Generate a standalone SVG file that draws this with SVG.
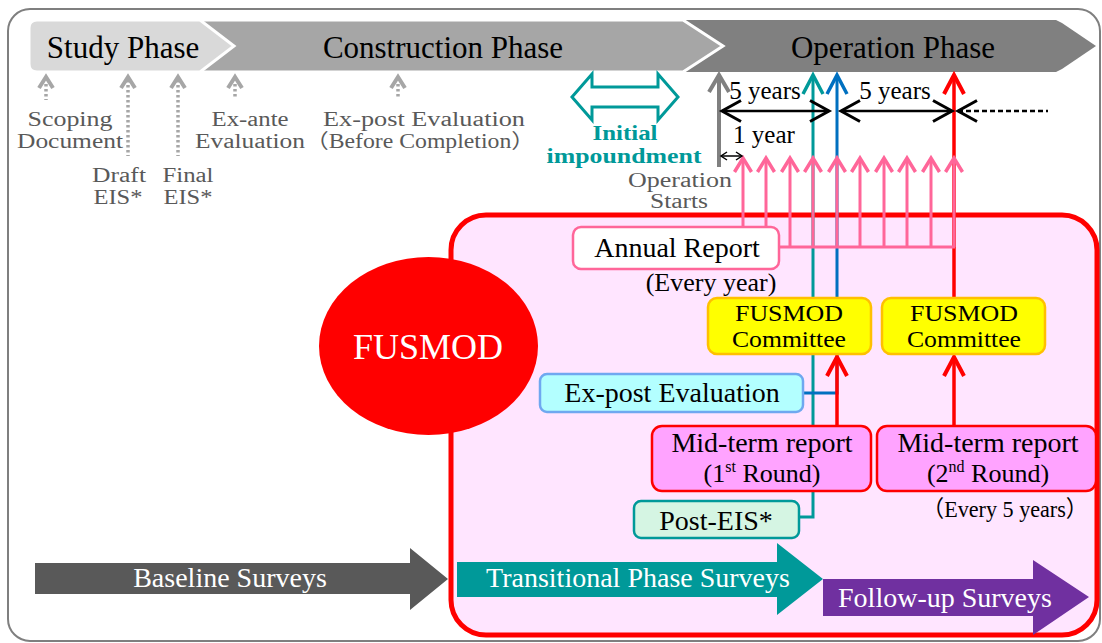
<svg xmlns="http://www.w3.org/2000/svg" width="1102" height="643" viewBox="0 0 1102 643">
<style>
text{font-family:"Liberation Serif",serif;text-anchor:middle;}
.cjk{font-family:"Liberation Serif","Noto Sans CJK JP",serif;}
.ph{font-size:31px;fill:#000;}
.gl{font-size:20px;fill:#595959;}
.bk{font-size:25px;fill:#000;}
.bx{font-size:28px;fill:#000;}
.cm{font-size:26px;fill:#000;}
.ct{font-size:23px;fill:#000;}
.wt{font-size:28px;fill:#fff;}
.tl{font-size:22px;fill:#009999;font-weight:bold;}
.dot{stroke:#a6a6a6;stroke-width:3.5;stroke-dasharray:2.5 2.5;fill:none;}
.dh{stroke:#a6a6a6;stroke-width:4;fill:none;}
.bar{stroke:#fff;stroke-width:3;}
.box{stroke-width:2.5;}
</style>
<defs>
<marker id="mTeal" markerUnits="userSpaceOnUse" viewBox="-22 -12 26 24" markerWidth="26" markerHeight="24" refX="0" refY="0" orient="auto"><path d="M-19,-10 L0,0 L-19,10" fill="none" stroke="#009999" stroke-width="3.5"/></marker>
<marker id="mBlue" markerUnits="userSpaceOnUse" viewBox="-22 -12 26 24" markerWidth="26" markerHeight="24" refX="0" refY="0" orient="auto"><path d="M-19,-10 L0,0 L-19,10" fill="none" stroke="#0070c0" stroke-width="3.5"/></marker>
<marker id="mRed" markerUnits="userSpaceOnUse" viewBox="-22 -12 26 24" markerWidth="26" markerHeight="24" refX="0" refY="0" orient="auto"><path d="M-19,-10 L0,0 L-19,10" fill="none" stroke="#ff0000" stroke-width="4"/></marker>
<marker id="mGray" markerUnits="userSpaceOnUse" viewBox="-22 -12 26 24" markerWidth="26" markerHeight="24" refX="0" refY="0" orient="auto"><path d="M-17,-10 L0,0 L-17,10" fill="none" stroke="#808080" stroke-width="4"/></marker>
<marker id="mPink" markerUnits="userSpaceOnUse" viewBox="-18 -12 22 24" markerWidth="22" markerHeight="24" refX="0" refY="0" orient="auto"><path d="M-14,-8.5 L0,0 L-14,8.5" fill="none" stroke="#ff6699" stroke-width="3.5"/></marker>
<marker id="mBlk" markerUnits="userSpaceOnUse" viewBox="-22 -13 26 26" markerWidth="26" markerHeight="26" refX="0" refY="0" orient="auto-start-reverse"><path d="M-19,-10.5 L0,0 L-19,10.5" fill="none" stroke="#000" stroke-width="3"/></marker>
<marker id="mBlkS" markerUnits="userSpaceOnUse" viewBox="-9 -6 11 12" markerWidth="11" markerHeight="12" refX="0" refY="0" orient="auto-start-reverse"><path d="M-6,-4 L0,0 L-6,4" fill="none" stroke="#000" stroke-width="1.5"/></marker>
</defs>

<rect x="8" y="9" width="1092" height="632" rx="22" fill="#fff" stroke="#7f7f7f" stroke-width="2"/>

<g id="phases">
<polygon points="680,20 1056,20 1062,23 1096,46 1062,69 1056,72 680,72" fill="#808080"/>
<polygon class="bar" points="190,20 683,20 723,46 683,72 190,72" fill="#a6a6a6"/>
<path class="bar" d="M37,20 H200 L234,46 L200,72 H37 Q29,72 29,64 V28 Q29,20 37,20 Z" fill="#d9d9d9"/>
<text class="ph" x="123" y="58">Study Phase</text>
<text class="ph" x="443" y="58">Construction Phase</text>
<text class="ph" x="893" y="58">Operation Phase</text>
</g>

<g id="eia-steps">
<path class="dot" d="M46,84 V100"/><polyline class="dh" points="39,88 46,77 53,88"/>
<path class="dot" d="M128,80 V156"/><polyline class="dh" points="121,88 128,77 135,88"/>
<path class="dot" d="M178,80 V156"/><polyline class="dh" points="171,88 178,77 185,88"/>
<path class="dot" d="M235,84 V97"/><polyline class="dh" points="228,88 235,77 242,88"/>
<path class="dot" d="M398,84 V99"/><polyline class="dh" points="391,88 398,77 405,88"/>
<text class="gl" x="70" y="126" textLength="85" lengthAdjust="spacingAndGlyphs">Scoping</text>
<text class="gl" x="70" y="148" textLength="106" lengthAdjust="spacingAndGlyphs">Document</text>
<text class="gl" x="119" y="182" textLength="54" lengthAdjust="spacingAndGlyphs">Draft</text>
<text class="gl" x="118" y="204" textLength="49" lengthAdjust="spacingAndGlyphs">EIS*</text>
<text class="gl" x="188" y="182" textLength="51" lengthAdjust="spacingAndGlyphs">Final</text>
<text class="gl" x="188" y="204" textLength="49" lengthAdjust="spacingAndGlyphs">EIS*</text>
<text class="gl" x="250" y="126" textLength="77" lengthAdjust="spacingAndGlyphs">Ex-ante</text>
<text class="gl" x="250" y="148" textLength="110" lengthAdjust="spacingAndGlyphs">Evaluation</text>
<text class="gl" x="424" y="126" textLength="202" lengthAdjust="spacingAndGlyphs">Ex-post Evaluation</text>
<text class="gl cjk" x="420" y="148" textLength="230" lengthAdjust="spacingAndGlyphs">（Before Completion）</text>
</g>

<g id="initial-impoundment">
<polygon points="572,97 592,74 592,87 658,87 658,74 678,97 658,120 658,107 592,107 592,120" fill="#fff" stroke="#009999" stroke-width="3"/>
<text class="tl" x="625" y="140" textLength="65" lengthAdjust="spacingAndGlyphs">Initial</text>
<text class="tl" x="624" y="163" textLength="155" lengthAdjust="spacingAndGlyphs">impoundment</text>
</g>

<g id="operation-starts">
<text class="gl" x="680" y="187" textLength="104" lengthAdjust="spacingAndGlyphs">Operation</text>
<text class="gl" x="679" y="208" textLength="58" lengthAdjust="spacingAndGlyphs">Starts</text>
</g>

<g id="fusmod-area">
<rect x="451" y="215" width="646" height="420" rx="35" fill="#ffe5ff" stroke="#ff0000" stroke-width="5"/>
</g>

<g id="fusmod">
<ellipse cx="428.5" cy="346" rx="109.5" ry="89" fill="#ff0000"/>
<text x="428" y="359" style="font-size:36px;fill:#fff">FUSMOD</text>
</g>

<g id="surveys">
<g id="baseline-surveys">
<polygon points="35,563 410,563 410,548 448,579 410,610 410,594 35,594" fill="#595959"/>
<text class="wt" x="230" y="587">Baseline Surveys</text>
</g>
<g id="followup-surveys">
<polygon points="823,579 1033,579 1033,560 1089,597 1033,635 1033,616 823,616" fill="#7030a0"/>
<text class="wt" x="945" y="607">Follow-up Surveys</text>
</g>
<g id="transitional-surveys">
<polygon points="457,562 777,562 777,543 823,579 777,615 777,597 457,597" fill="#009999"/>
<text class="wt" x="638" y="587">Transitional Phase Surveys</text>
</g>
</g>

<g id="connectors" fill="none">
<path d="M719,167 V75" stroke="#808080" stroke-width="4" marker-end="url(#mGray)"/>
<path d="M799,517 H813 V75" stroke="#009999" stroke-width="3" marker-end="url(#mTeal)"/>
<path d="M803,393 H837 V75" stroke="#0070c0" stroke-width="3" marker-end="url(#mBlue)"/>
<path d="M954,298 V75" stroke="#ff0000" stroke-width="3.5" marker-end="url(#mRed)"/>
<path d="M837,426 V357" stroke="#ff0000" stroke-width="3.5" marker-end="url(#mRed)"/>
<path d="M954,426 V357" stroke="#ff0000" stroke-width="3.5" marker-end="url(#mRed)"/>
<g stroke="#ff6699" stroke-width="3" marker-end="url(#mPink)">
<path d="M743,227 V158"/>
<path d="M766,227 V158"/>
<path d="M790,247 V158"/>
<path d="M813,247 V158"/>
<path d="M837,247 V158"/>
<path d="M860,247 V158"/>
<path d="M884,247 V158"/>
<path d="M907,247 V158"/>
<path d="M931,247 V158"/>
<path d="M954,247 V158"/>
</g>
<path d="M779,247 H955" stroke="#ff6699" stroke-width="3"/>
<path d="M722,111 H829" stroke="#000" stroke-width="2.5" marker-start="url(#mBlk)" marker-end="url(#mBlk)"/>
<path d="M841,111 H952" stroke="#000" stroke-width="2.5" marker-start="url(#mBlk)" marker-end="url(#mBlk)"/>
<path d="M958,111 H1048" stroke="#000" stroke-width="2.5" stroke-dasharray="5 3" marker-start="url(#mBlk)"/>
<path d="M721,156 H742" stroke="#000" stroke-width="1.5" marker-start="url(#mBlkS)" marker-end="url(#mBlkS)"/>
</g>

<g id="interval-labels">
<text class="bk" x="765" y="99">5 years</text>
<text class="bk" x="895" y="99">5 years</text>
<text class="bk" x="764" y="143">1 year</text>
</g>

<g id="annual-report">
<rect class="box" x="573" y="227" width="206" height="42" rx="8" fill="#fff" stroke="#ff6699"/>
<text class="bx" x="677" y="257">Annual Report</text>
<text class="cm" x="711" y="291">(Every year)</text>
</g>

<g id="committee-1">
<rect class="box" x="708" y="298" width="163" height="56" rx="9" fill="#ffff00" stroke="#ffc000"/>
<text class="ct" x="789" y="321" textLength="108" lengthAdjust="spacingAndGlyphs">FUSMOD</text>
<text class="ct" x="789" y="347" textLength="114" lengthAdjust="spacingAndGlyphs">Committee</text>
</g>

<g id="committee-2">
<rect class="box" x="882" y="298" width="163" height="56" rx="9" fill="#ffff00" stroke="#ffc000"/>
<text class="ct" x="964" y="321" textLength="108" lengthAdjust="spacingAndGlyphs">FUSMOD</text>
<text class="ct" x="964" y="347" textLength="114" lengthAdjust="spacingAndGlyphs">Committee</text>
</g>

<g id="expost-evaluation">
<rect class="box" x="540" y="374" width="263" height="38" rx="7" fill="#b3ffff" stroke="#6fa8f0"/>
<text class="bx" x="672" y="402">Ex-post Evaluation</text>
</g>

<g id="midterm-1">
<rect class="box" x="652" y="426" width="219" height="65" rx="10" fill="#ffa3ff" stroke="#ff0000"/>
<text class="bx" x="762" y="452">Mid-term report</text>
<text class="cm" x="762" y="482">(1<tspan style="font-size:16px" dy="-10">st</tspan><tspan dy="10"> Round)</tspan></text>
</g>

<g id="midterm-2">
<rect class="box" x="877" y="426" width="219" height="65" rx="10" fill="#ffa3ff" stroke="#ff0000"/>
<text class="bx" x="988" y="452">Mid-term report</text>
<text class="cm" x="988" y="482">(2<tspan style="font-size:16px" dy="-10">nd</tspan><tspan dy="10"> Round)</tspan></text>
<text class="cjk" x="1005" y="517" style="font-size:23px" textLength="166" lengthAdjust="spacingAndGlyphs">（Every 5 years）</text>
</g>

<g id="post-eis">
<rect class="box" x="634" y="501" width="165" height="37" rx="7" fill="#d5f5e3" stroke="#009999"/>
<text class="bx" x="716" y="530">Post-EIS*</text>
</g>
</svg>
